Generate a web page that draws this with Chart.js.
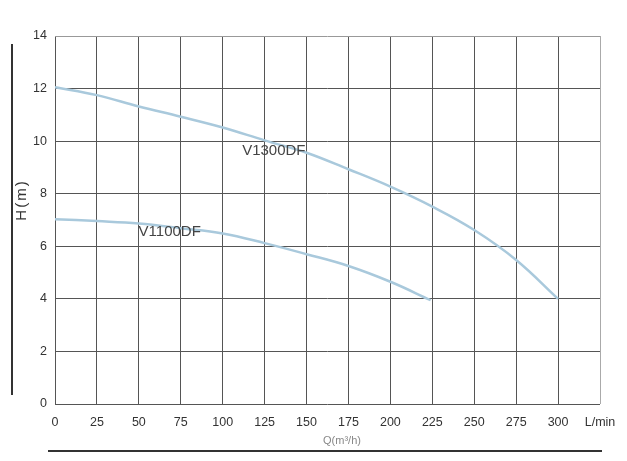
<!DOCTYPE html>
<html>
<head>
<meta charset="utf-8">
<script src="https://cdn.jsdelivr.net/npm/chart.js@4/dist/chart.umd.min.js"></script>
<style>
  html, body { margin: 0; padding: 0; background: #ffffff; }
  #wrap { width: 627px; height: 461px; position: relative; }
</style>
</head>
<body>
<div id="wrap"><canvas id="c" width="627" height="461"></canvas></div>
<script>
// ---- data ----
const flowV1300 = [0, 25, 50, 75, 100, 125, 150, 175, 200, 225, 250, 275, 300];
const headV1300 = [12.05, 11.75, 11.32, 10.93, 10.52, 10.03, 9.56, 8.93, 8.27, 7.51, 6.62, 5.48, 4.0];
const flowV1100 = [0, 25, 50, 75, 100, 125, 150, 175, 200, 224];
const headV1100 = [7.03, 6.96, 6.87, 6.69, 6.49, 6.12, 5.70, 5.25, 4.65, 3.95];
const seriesNames = ['V1300DF', 'V1100DF'];
const xTickMax = 325;
const xUnitLabel = 'L/min';
const yTitle = 'H(m)';
const xSubTitle = 'Q(m³/h)';

const toPoints = (xs, ys) => xs.map((x, i) => ({ x: x, y: ys[i] }));

const FONT = '"Liberation Sans", Arial, sans-serif';
const curveColor = '#a9c9dc';

const decorPlugin = {
  id: 'decor',
  afterDatasetsDraw(chart) {
    const { ctx, scales } = chart;
    const xs = scales.x, ys = scales.y;
    ctx.save();
    // curve labels
    ctx.font = '15px ' + FONT;
    ctx.fillStyle = '#444';
    ctx.textAlign = 'center';
    ctx.textBaseline = 'middle';
    const labelAnchors = [[130.5, 9.62], [68.4, 6.55]];
    seriesNames.forEach((n, i) => {
      ctx.fillText(n, xs.getPixelForValue(labelAnchors[i][0]), ys.getPixelForValue(labelAnchors[i][1]));
    });
    // y axis title (rotated)
    ctx.save();
    ctx.translate(22, 200);
    ctx.rotate(-Math.PI / 2);
    ctx.font = '15px ' + FONT;
    ctx.fillStyle = '#333';
    if ('letterSpacing' in ctx) ctx.letterSpacing = '2px';
    ctx.fillText(yTitle, 0, 0);
    ctx.restore();
    // x sub title
    ctx.font = '11px ' + FONT;
    ctx.fillStyle = '#888';
    ctx.fillText(xSubTitle, 342, 441);
    // decorative rules
    ctx.strokeStyle = '#333';
    ctx.lineWidth = 2;
    ctx.beginPath();
    ctx.moveTo(12, 44); ctx.lineTo(12, 395);
    ctx.stroke();
    ctx.beginPath();
    ctx.moveTo(48, 451); ctx.lineTo(602, 451);
    ctx.stroke();
    ctx.restore();
  }
};

new Chart(document.getElementById('c'), {
  type: 'line',
  data: {
    datasets: [
      {
        label: seriesNames[0],
        data: toPoints(flowV1300, headV1300),
        borderColor: curveColor,
        borderWidth: 2.5,
        pointRadius: 0,
        tension: 0.4,
        fill: false
      },
      {
        label: seriesNames[1],
        data: toPoints(flowV1100, headV1100),
        borderColor: curveColor,
        borderWidth: 2.5,
        pointRadius: 0,
        tension: 0.4,
        fill: false
      }
    ]
  },
  options: {
    responsive: false,
    animation: false,
    devicePixelRatio: 1,
    layout: { padding: { top: 36, right: 27, left: 0, bottom: 0 } },
    plugins: {
      legend: { display: false },
      tooltip: { enabled: false },
      title: { display: false }
    },
    scales: {
      x: {
        type: 'linear',
        min: 0,
        max: xTickMax,
        afterFit(s) { s.height = 57; },
        border: { display: false },
        grid: {
          drawTicks: false,
          lineWidth: 1,
          color: (c) => (c.tick && c.tick.value === xTickMax) ? '#aaaaaa' : '#555555'
        },
        ticks: {
          stepSize: 25,
          padding: 11,
          color: '#333',
          font: { family: FONT, size: 12.5 },
          maxRotation: 0,
          autoSkip: false,
          callback: (v) => v === xTickMax ? xUnitLabel : String(v)
        }
      },
      y: {
        type: 'linear',
        min: 0,
        max: 14,
        afterFit(s) { s.width = 55; },
        border: { display: false },
        grid: {
          drawTicks: false,
          lineWidth: 1,
          color: (c) => (c.tick && c.tick.value === 14) ? '#999999' : '#555555'
        },
        ticks: {
          stepSize: 2,
          padding: 8,
          color: '#333',
          font: { family: FONT, size: 12.5 }
        }
      }
    }
  },
  plugins: [decorPlugin]
});
</script>
</body>
</html>
